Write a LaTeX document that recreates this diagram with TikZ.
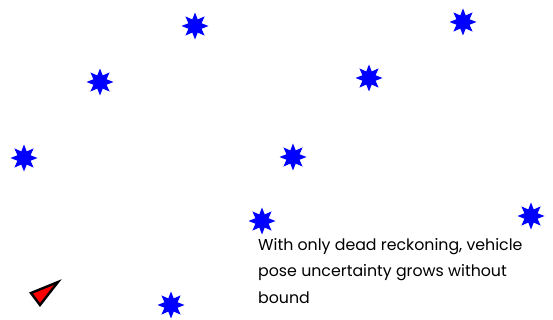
\documentclass[tikz,border=0pt]{standalone}
\usepackage{fontspec}
\setmainfont{Poppins}
\usetikzlibrary{shapes.geometric}
\tikzset{
  landmark/.style={star, star points=8, star point ratio=1.9, fill=blue, draw=none, inner sep=0pt, minimum size=27pt},
  caption/.style={anchor=north west, inner sep=0pt, align=left, font=\fontsize{15.8}{26.5}\selectfont}
}
\begin{document}
\begin{tikzpicture}[x=1pt,y=-1pt]
\useasboundingbox (0,0) rectangle (553,320);
\node[landmark] (s1) at (195,26) {};
\node[landmark] (s2) at (463,22) {};
\node[landmark] (s3) at (100,82) {};
\node[landmark] (s4) at (369,78) {};
\node[landmark] (s5) at (24,158) {};
\node[landmark] (s6) at (293,157) {};
\node[landmark] (s7) at (262,221) {};
\node[landmark] (s8) at (531,216) {};
\node[landmark] (s9) at (171,305) {};
\draw[fill=red, line width=2.4pt, line join=miter] (58,282) -- (31,293) -- (40,305) -- cycle;
\node[caption] (txt) at (258,238) {With only dead reckoning, vehicle\\pose uncertainty grows without\\bound};
\end{tikzpicture}
\end{document}
